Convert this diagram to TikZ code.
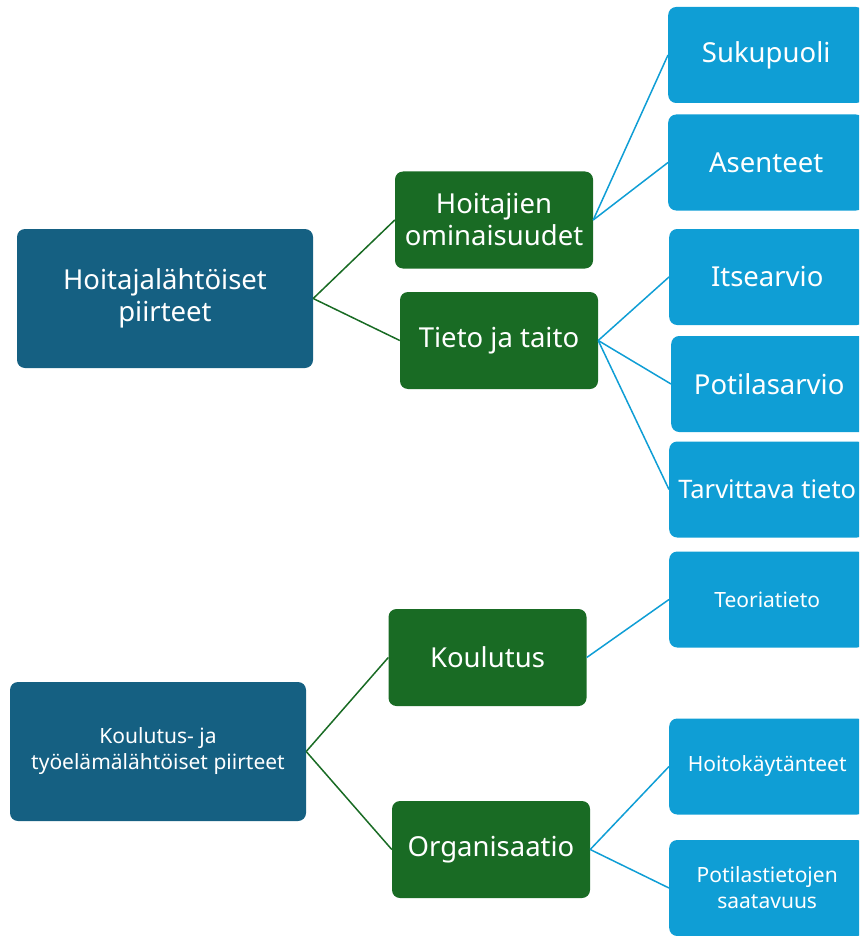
\documentclass[tikz,border=0pt]{standalone}
\usepackage{fontspec}
\setmainfont{Noto Sans}
\definecolor{dblue}{HTML}{156082}
\definecolor{dgreen}{HTML}{196B24}
\definecolor{lblue}{HTML}{0F9ED5}
\begin{document}
\begin{tikzpicture}[x=1pt,y=-1pt,
  box/.style={rounded corners=8pt, text=white, align=center, inner sep=1pt},
  lvlone/.style={box, fill=dblue, minimum width=296pt, minimum height=139pt},
  lvltwo/.style={box, fill=dgreen, minimum width=198pt, minimum height=97pt},
  lvlthree/.style={box, fill=lblue, minimum width=196pt, minimum height=96pt, anchor=west},
  big/.style={font=\fontsize{27.5}{32}\selectfont},
  small/.style={font=\fontsize{21}{26}\selectfont},
  gline/.style={draw=dgreen, line width=1.5pt},
  bline/.style={draw=lblue, line width=1.5pt}]
\useasboundingbox (0,0) rectangle (859,936);
\clip (0,0) rectangle (859,936);
\node[lvlone, big] (hp) at (165,298.5) {Hoitajalähtöiset\\piirteet};
\node[lvlone, small] (ko) at (158,751.5) {Koulutus- ja\\työelämälähtöiset piirteet};
\node[lvltwo, big] (ho) at (494,220) {Hoitajien\\ominaisuudet};
\node[lvltwo, big] (tt) at (499,340.5) {Tieto ja taito};
\node[lvltwo, big] (kou) at (487.5,657.5) {Koulutus};
\node[lvltwo, big] (org) at (491,849.5) {Organisaatio};
\node[lvlthree, big] (suk) at (668,55) {Sukupuoli};
\node[lvlthree, big] (ase) at (668,162.5) {Asenteet};
\node[lvlthree, big] (its) at (669,277) {Itsearvio};
\node[lvlthree, big] (pot) at (671,384) {Potilasarvio};
\node[lvlthree, font=\fontsize{25.5}{30}\selectfont] (tar) at (669,489.5) {Tarvittava tieto};
\node[lvlthree, small] (teo) at (669,599.5) {Teoriatieto};
\node[lvlthree, small] (hoi) at (669,766.5) {Hoitokäytänteet};
\node[lvlthree, small] (pts) at (669,888) {Potilastietojen\\saatavuus};
\draw[gline] (hp.east) -- (ho.west);
\draw[gline] (hp.east) -- (tt.west);
\draw[gline] (ko.east) -- (kou.west);
\draw[gline] (ko.east) -- (org.west);
\draw[bline] (ho.east) -- (suk.west);
\draw[bline] (ho.east) -- (ase.west);
\draw[bline] (tt.east) -- (its.west);
\draw[bline] (tt.east) -- (pot.west);
\draw[bline] (tt.east) -- (tar.west);
\draw[bline] (kou.east) -- (teo.west);
\draw[bline] (org.east) -- (hoi.west);
\draw[bline] (org.east) -- (pts.west);
\end{tikzpicture}
\end{document}
